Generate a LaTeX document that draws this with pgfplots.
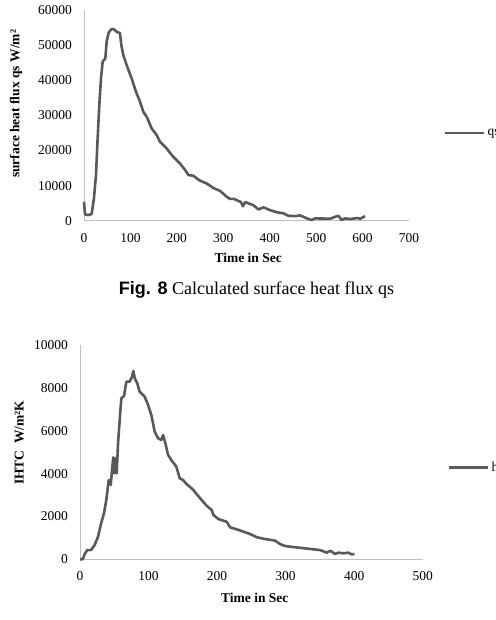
\documentclass[border=0pt]{standalone}
\usepackage{fontspec}
\setmainfont{Liberation Serif}
\newfontfamily\arialfont{Liberation Sans}
\usepackage{pgfplots}
\pgfplotsset{compat=1.18}
\definecolor{linegray}{RGB}{89,89,89}
\definecolor{axgray}{RGB}{190,190,190}
\pgfplotsset{mystyle/.style={
  scale only axis,
  axis lines*=left,
  axis line style={axgray, line width=0.8bp},
  major tick length=0pt,
  tick style={draw=none},
  /pgf/number format/assume math mode=true,
  /pgf/number format/1000 sep={},
  scaled ticks=false,
  ticklabel style={font=\fontsize{13.5bp}{16bp}\selectfont, inner sep=0pt},
  yticklabel style={anchor=east, xshift=-12bp},
  xticklabel style={anchor=center, yshift=-17bp},
  label style={font=\bfseries\fontsize{13.5bp}{16bp}\selectfont},
  clip=false,
  legend style={draw=none, fill=none, font=\fontsize{13.5bp}{16bp}\selectfont, inner sep=0pt, outer sep=0pt},
  legend image code/.code={\draw[#1] (0bp,0bp) -- (39bp,0bp);},
}}
\begin{document}
\begin{tikzpicture}
\useasboundingbox (0,0) rectangle (496bp,620bp);
\begin{axis}[mystyle,
  at={(84bp,399.3bp)}, anchor=south west,
  width=325bp, height=210.7bp,
  xmin=0, xmax=700, ymin=0, ymax=60000,
  xtick={0,100,...,700}, ytick={0,10000,...,60000},
  xlabel={Time in Sec},
  ylabel={surface heat flux qs W/m²},
  xlabel style={at={(axis description cs:0.505,-0.175)}, anchor=center},
  ylabel style={at={(axis description cs:-0.209,0.554)}, anchor=center},
  legend style={at={(axis description cs:1.108,0.417)}, anchor=west},
]
\addplot[linegray, line width=2.6bp, line join=round] coordinates {
(0,5400) (2.2,1800) (9,1600) (16.5,1900) (21.5,6400) (25.8,13000) (29.4,23500)
(33,33000) (36.6,40500) (40.2,45300) (45.9,46200) (48.8,51000) (53.1,53600)
(59.6,54600) (64.6,54500) (70.4,53800) (77.5,53400) (80.4,50000) (84.6,47200)
(91.9,44300) (102.6,40500) (112,36700) (120.6,33900) (127.8,31000) (135,29600)
(145.8,26300) (156.5,24400) (163.5,22500) (177.8,20600) (192.2,18200)
(206.6,16300) (218,14400) (225,13000) (235.4,12800) (249.8,11400) (264.2,10600)
(280,9200) (293,8500) (307.4,6800) (314.6,6200) (323,6200) (338,5300)
(342.3,4100) (347,5300) (365,4400) (375.7,3200) (386.5,3800) (401,3000)
(415.3,2400) (429.7,2100) (440,1400) (454.4,1300) (465.7,1500) (480,660)
(490.4,190) (497.5,660) (530.4,570) (540.7,1100) (548,1400) (555,190)
(562.3,660) (573.6,470) (588,760) (595.2,570) (605.5,1300)
};
\addlegendentry{qs}
\end{axis}
\node[font=\fontsize{18bp}{21bp}\selectfont] at (256.5bp,330bp) {{\arialfont\bfseries Fig. 8} Calculated surface heat flux qs};
\begin{axis}[mystyle,
  at={(80bp,60.7bp)}, anchor=south west,
  width=342.7bp, height=214.3bp,
  xmin=0, xmax=500, ymin=0, ymax=10000,
  xtick={0,100,...,500}, ytick={0,2000,...,10000},
  xlabel={Time in Sec},
  ylabel={IHTC\ \ W/m²K},
  xlabel style={at={(axis description cs:0.51,-0.18)}, anchor=center},
  ylabel style={at={(axis description cs:-0.177,0.544)}, anchor=center},
  legend style={at={(axis description cs:1.074,0.429)}, anchor=west},
]
\addplot[linegray, line width=2.6bp, line join=round] coordinates {
(0,0) (4,0) (7.3,280) (10.7,430) (16,430) (21.4,670) (26.3,1050) (30.2,1600)
(35,2150) (38.4,2770) (41.9,3700) (44.8,3470) (47.2,4320) (48.6,4760)
(50.1,4010) (52.1,4710) (53.6,4010) (55.5,5410) (57.9,6500) (60.3,7510)
(64.2,7620) (67.6,8290) (72.5,8290) (75.9,8520) (77.8,8790) (79.9,8450)
(83.6,8210) (87.1,7820) (94.4,7590) (99.3,7200) (104.1,6730) (109,5950)
(113.9,5650) (118.7,5570) (121.2,5800) (124.6,5410) (128.5,4870) (133.3,4630)
(140.6,4320) (145.5,3780) (150.4,3700) (155.7,3500) (163,3310) (165.4,3230)
(175.2,2850) (185,2490) (192.2,2300) (194.6,2070) (201.9,1880) (214.1,1750)
(219,1490) (228.7,1400) (238.4,1290) (248.2,1180) (258,1030) (267.6,960)
(284.7,870) (292,710) (299.3,620) (313.9,560) (331,500) (350.4,430)
(360,310) (365,400) (372,250) (377,310) (384.4,280) (391.6,310)
(396.6,230) (400.4,250)
};
\addlegendentry{h}
\end{axis}
\end{tikzpicture}
\end{document}
